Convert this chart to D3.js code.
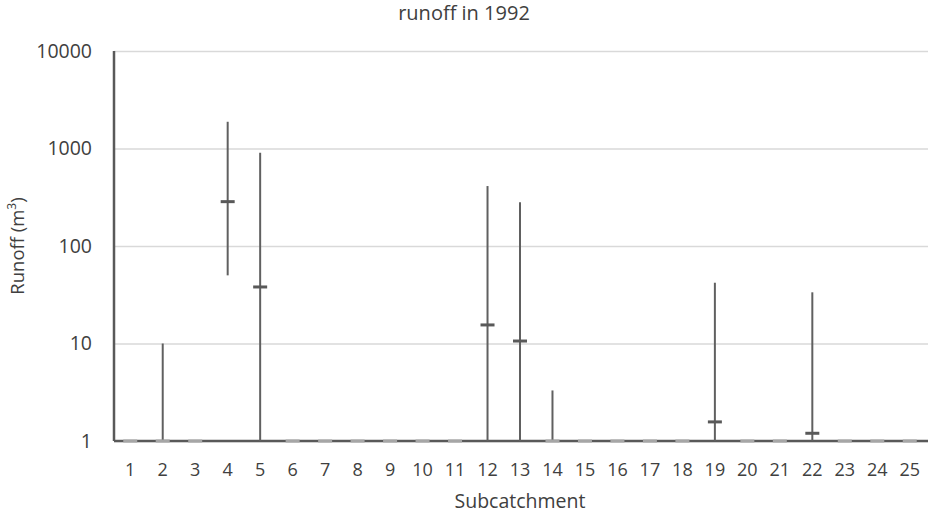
<!DOCTYPE html>
<html>
<head>
<meta charset="utf-8">
<script src="https://cdn.jsdelivr.net/npm/d3@7"></script>
<style>
  body { margin: 0; background: #fff; }
  text { font-family: "Open Sans", Lato, sans-serif; fill: #404040; }
</style>
</head>
<body>
<svg id="chart" width="928" height="514"></svg>
<script>
// subcatchment numbers on the x axis
const categories = d3.range(1, 26).map(String);
// yearly runoff range and mean per subcatchment (m3)
const highs = [1, 10, 1, 1880, 905, 1, 1, 1, 1, 1, 1, 412, 281, 3.3, 1, 1, 1, 1, 42, 1, 1, 33.5, 1, 1, 1];
const lows  = [1, 1, 1, 50, 1, 1, 1, 1, 1, 1, 1, 1, 1, 1, 1, 1, 1, 1, 1, 1, 1, 1, 1, 1, 1];
const means = [1, 1, 1, 285, 38, 1, 1, 1, 1, 1, 1, 15.5, 10.6, 1, 1, 1, 1, 1, 1.57, 1, 1, 1.2, 1, 1, 1];
const yTickValues = [1, 10, 100, 1000, 10000];

const data = categories.map((c, i) => ({ name: c, high: highs[i], low: lows[i], mean: means[i] }));

const margin = { left: 114, right: 2, top: 51, bottom: 73 };
const svg = d3.select('#chart');
const width = +svg.attr('width');
const height = +svg.attr('height');
const innerWidth = width - margin.left - margin.right;
const innerHeight = height - margin.top - margin.bottom;

const g = svg.append('g')
    .attr('transform', `translate(${margin.left},${margin.top})`);

const xScale = d3.scaleBand()
    .domain(categories)
    .range([0, innerWidth]);
const yScale = d3.scaleLog()
    .domain([1, 10000])
    .range([innerHeight, 0]);

/* gridlines + y labels */
const yAxis = d3.axisLeft(yScale)
    .tickValues(yTickValues)
    .tickFormat(d3.format('d'))
    .tickSize(-(width - margin.left))
    .tickPadding(22);
const yAxisG = g.append('g').call(yAxis);
yAxisG.attr('font-size', 19.5).attr('font-family', null);
yAxisG.select('.domain').remove();
yAxisG.selectAll('line').attr('stroke', '#d9d9d9').attr('stroke-width', 1.5);
yAxisG.selectAll('text').attr('fill', '#404040');

/* x labels */
const xAxis = d3.axisBottom(xScale).tickSize(0).tickPadding(22);
const xAxisG = g.append('g')
    .attr('transform', `translate(0,${innerHeight})`)
    .call(xAxis);
xAxisG.attr('font-size', 18).attr('font-family', null);
xAxisG.select('.domain').remove();
xAxisG.selectAll('text').attr('fill', '#404040');

/* axis lines */
g.append('line')
    .attr('x1', 0).attr('x2', width - margin.left)
    .attr('y1', innerHeight).attr('y2', innerHeight)
    .attr('stroke', '#595959').attr('stroke-width', 2.5);
g.append('line')
    .attr('x1', 0).attr('x2', 0)
    .attr('y1', 0).attr('y2', innerHeight)
    .attr('stroke', '#595959').attr('stroke-width', 2.5);

const cx = d => xScale(d.name) + xScale.bandwidth() / 2;

/* high-low lines */
g.selectAll('line.hl').data(data.filter(d => d.high > d.low))
    .enter().append('line')
      .attr('class', 'hl')
      .attr('x1', cx).attr('x2', cx)
      .attr('y1', d => yScale(d.high))
      .attr('y2', d => yScale(d.low))
      .attr('stroke', '#606060')
      .attr('stroke-width', 2);

/* mean marks */
g.selectAll('line.mean').data(data)
    .enter().append('line')
      .attr('class', 'mean')
      .attr('x1', d => cx(d) - 7).attr('x2', d => cx(d) + 7)
      .attr('y1', d => yScale(d.mean))
      .attr('y2', d => yScale(d.mean))
      .attr('stroke', d => d.mean > 1 ? '#595959' : '#a6a6a6')
      .attr('stroke-width', 3);

/* titles */
svg.append('text')
    .attr('x', width / 2).attr('y', 20)
    .attr('text-anchor', 'middle')
    .attr('font-size', 20)
    .text('runoff in 1992');

svg.append('text')
    .attr('x', margin.left + innerWidth / 2).attr('y', 508)
    .attr('text-anchor', 'middle')
    .attr('font-size', 19.5)
    .text('Subcatchment');

const yLabel = svg.append('text')
    .attr('transform', `translate(24,${margin.top + innerHeight / 2}) rotate(-90)`)
    .attr('text-anchor', 'middle')
    .attr('font-size', 18.5);
yLabel.append('tspan').text('Runoff (m');
yLabel.append('tspan').attr('baseline-shift', 'super').attr('font-size', 12).text('3');
yLabel.append('tspan').text(')');
</script>
</body>
</html>
